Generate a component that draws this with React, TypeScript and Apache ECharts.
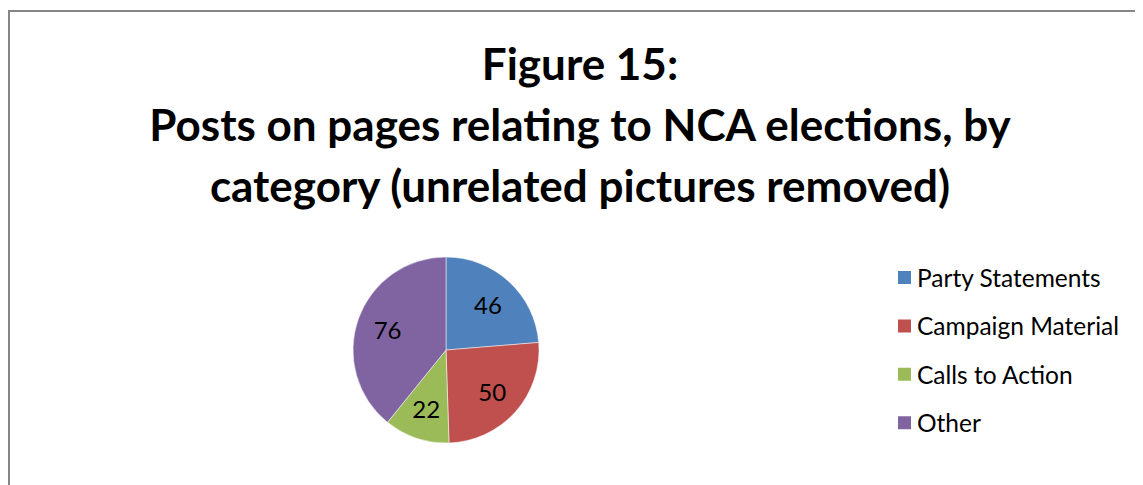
import React, { useEffect, useRef } from "react";
import * as echarts from "echarts";

const categories = ["Party Statements", "Campaign Material", "Calls to Action", "Other"];
const values = [46, 50, 22, 76];
const colors = ["#4F81BD", "#C0504D", "#9BBB59", "#8064A2"];
const titleText = "Figure 15:\nPosts on pages relating to NCA elections, by\ncategory (unrelated pictures removed)";

const FONT = "Lato, 'Open Sans', sans-serif";

export default function App() {
  const ref = useRef<HTMLDivElement>(null);
  useEffect(() => {
    if (!ref.current) return;
    const chart = echarts.init(ref.current, undefined, { renderer: "svg" });
    const data = categories.map((name, i) => ({ name, value: values[i], itemStyle: { color: colors[i] } }));
    chart.setOption({
      animation: false,
      backgroundColor: "#ffffff",
      title: {
        text: titleText,
        left: 572,
        textAlign: "center",
        top: 24,
        padding: 0,
        textStyle: { fontFamily: FONT, fontWeight: "bold", fontSize: 44, lineHeight: 61, color: "#000" },
      },
      legend: {
        orient: "vertical",
        left: 888,
        top: 257,
        padding: 0,
        itemWidth: 15,
        itemHeight: 15,
        itemGap: 23.4,
        icon: "rect",
        data: categories,
        textStyle: { fontFamily: FONT, fontSize: 24.5, color: "#000" },
      },
      graphic: [
        {
          type: "rect",
          shape: { x: 1, y: 3, width: 3000, height: 3000 },
          style: { fill: "none", stroke: "#868686", lineWidth: 2 },
          silent: true,
          z: -1,
        },
      ],
      series: [
        {
          type: "pie",
          center: [438, 342],
          radius: [0, 93],
          startAngle: 90,
          clockwise: true,
          label: { show: false },
          labelLine: { show: false },
          itemStyle: { borderColor: "#ffffff", borderWidth: 0.5 },
          emphasis: { disabled: true },
          data,
        },
        {
          type: "pie",
          center: [438, 342],
          radius: [0, 118],
          startAngle: 90,
          clockwise: true,
          silent: true,
          legendHoverLink: false,
          label: {
            show: true,
            position: "inside",
            formatter: "{c}",
            fontFamily: FONT,
            fontSize: 24,
            color: "#000",
          },
          labelLine: { show: false },
          itemStyle: { color: "rgba(0,0,0,0)" },
          emphasis: { disabled: true },
          data: categories.map((name, i) => ({ name: name + " ", value: values[i] })),
        },
      ],
    });
    return () => chart.dispose();
  }, []);
  return <div ref={ref} style={{ width: 1135, height: 477 }} />;
}
